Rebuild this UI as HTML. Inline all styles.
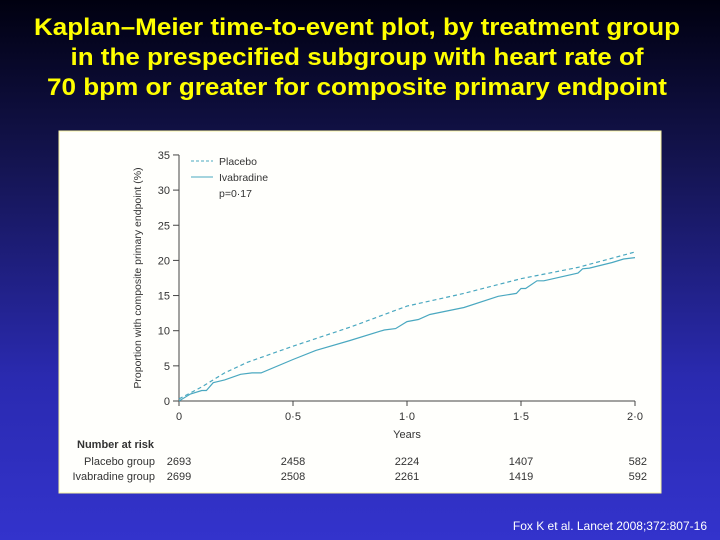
<!DOCTYPE html>
<html><head><meta charset="utf-8"><style>
html,body{margin:0;padding:0}
body{width:720px;height:540px;overflow:hidden;background:linear-gradient(#000010 0%,#141450 30%,#2a2ab0 70%,#3333cc 100%);font-family:"Liberation Sans",sans-serif}
</style></head><body>
<svg width="720" height="540" style="position:absolute;left:0;top:0">
<g fill="#ffff00" font-weight="bold" font-size="24" text-anchor="middle" font-family="Liberation Sans, sans-serif">
<text x="357" y="35" textLength="646" lengthAdjust="spacingAndGlyphs">Kaplan–Meier time-to-event plot, by treatment group</text>
<text x="357" y="65" textLength="573" lengthAdjust="spacingAndGlyphs">in the prespecified subgroup with heart rate of</text>
<text x="357" y="95" textLength="620" lengthAdjust="spacingAndGlyphs">70 bpm or greater for composite primary endpoint</text>
</g>
<rect x="59" y="131" width="602" height="362" fill="#fffffc" stroke="#f5f0a0" stroke-width="1"/>
<g id="chart" font-family="Liberation Sans, sans-serif" fill="#333"></g>
<text x="707" y="530" text-anchor="end" font-size="12" fill="#ffffff">Fox K et al. Lancet 2008;372:807-16</text>
</svg>
<script>
const xTicks=[0,0.5,1.0,1.5,2.0];
const xTickLabels=["0","0·5","1·0","1·5","2·0"];
const yTicks=[0,5,10,15,20,25,30,35];
const placeboX=[0,0.1,0.2,0.3,0.5,0.75,1.0,1.25,1.5,1.75,2.0];
const placeboY=[0.3,2,4,5.5,7.8,10.5,13.5,15.3,17.4,19,21.2];
const ivaX=[0,0.05,0.1,0.12,0.15,0.2,0.27,0.32,0.36,0.5,0.6,0.75,0.9,0.95,1.0,1.05,1.1,1.25,1.4,1.48,1.5,1.52,1.57,1.6,1.75,1.77,1.8,1.9,1.95,2.0];
const ivaY=[0,1,1.5,1.5,2.6,3,3.8,4,4,5.9,7.2,8.6,10.1,10.3,11.3,11.6,12.3,13.3,14.9,15.3,16,16,17.1,17.1,18.2,18.8,18.9,19.7,20.2,20.4];
const riskPlacebo=[2693,2458,2224,1407,582];
const riskIva=[2699,2508,2261,1419,592];
const NS="http://www.w3.org/2000/svg";
const g=document.getElementById('chart');
const X=v=>179+v*228, Y=v=>401-v*7.03;
function mk(t,a,txt){const e=document.createElementNS(NS,t);for(const k in a)e.setAttribute(k,a[k]);if(txt!==undefined)e.textContent=txt;g.appendChild(e);return e;}
let e;
e=mk('line',{x1:X(0),y1:Y(0),x2:X(2),y2:Y(0),stroke:'#444','stroke-width':1});

e=mk('line',{x1:X(0),y1:Y(0),x2:X(0),y2:Y(35),stroke:'#444','stroke-width':1});

xTicks.forEach((v,i)=>{
 e=mk('line',{x1:X(v),y1:Y(0),x2:X(v),y2:Y(0)+5,stroke:'#444'});
 
 e=mk('text',{x:X(v),y:420,'text-anchor':'middle','font-size':11},xTickLabels[i]);
 
 e=mk('text',{x:X(v)+(i==4?12:0),y:465,'text-anchor':i==4?'end':'middle','font-size':11},String(riskPlacebo[i]));
 
 e=mk('text',{x:X(v)+(i==4?12:0),y:480,'text-anchor':i==4?'end':'middle','font-size':11},String(riskIva[i]));
 
});
yTicks.forEach(v=>{
 e=mk('line',{x1:X(0)-6,y1:Y(v),x2:X(0),y2:Y(v),stroke:'#444'});
 
 e=mk('text',{x:X(0)-9,y:Y(v)+4,'text-anchor':'end','font-size':11},String(v));
 
});
e=mk('text',{x:407,y:438,'text-anchor':'middle','font-size':11},'Years');

e=mk('text',{x:0,y:0,'text-anchor':'middle','font-size':10.5,transform:'translate(141,278) rotate(-90)'},'Proportion with composite primary endpoint (%)');

const pts=(xs,ys)=>xs.map((x,i)=>X(x).toFixed(1)+','+Y(ys[i]).toFixed(1)).join(' ');
e=mk('polyline',{points:pts(placeboX,placeboY),fill:'none',stroke:'#4aa8c0','stroke-width':1.2,'stroke-dasharray':'4,3'});

e=mk('polyline',{points:pts(ivaX,ivaY),fill:'none',stroke:'#4aa8c0','stroke-width':1.2});

e=mk('line',{x1:191,y1:161,x2:213,y2:161,stroke:'#4aa8c0','stroke-dasharray':'3,2'});

e=mk('text',{x:219,y:165,'font-size':10.5},'Placebo');

e=mk('line',{x1:191,y1:177,x2:213,y2:177,stroke:'#4aa8c0'});

e=mk('text',{x:219,y:181,'font-size':10.5},'Ivabradine');

e=mk('text',{x:219,y:197,'font-size':10.5},'p=0·17');

e=mk('text',{x:77,y:448,'font-size':11,'font-weight':'bold'},'Number at risk');

e=mk('text',{x:155,y:465,'font-size':11,'text-anchor':'end'},'Placebo group');

e=mk('text',{x:155,y:480,'font-size':11,'text-anchor':'end'},'Ivabradine group');

</script>
</body></html>
